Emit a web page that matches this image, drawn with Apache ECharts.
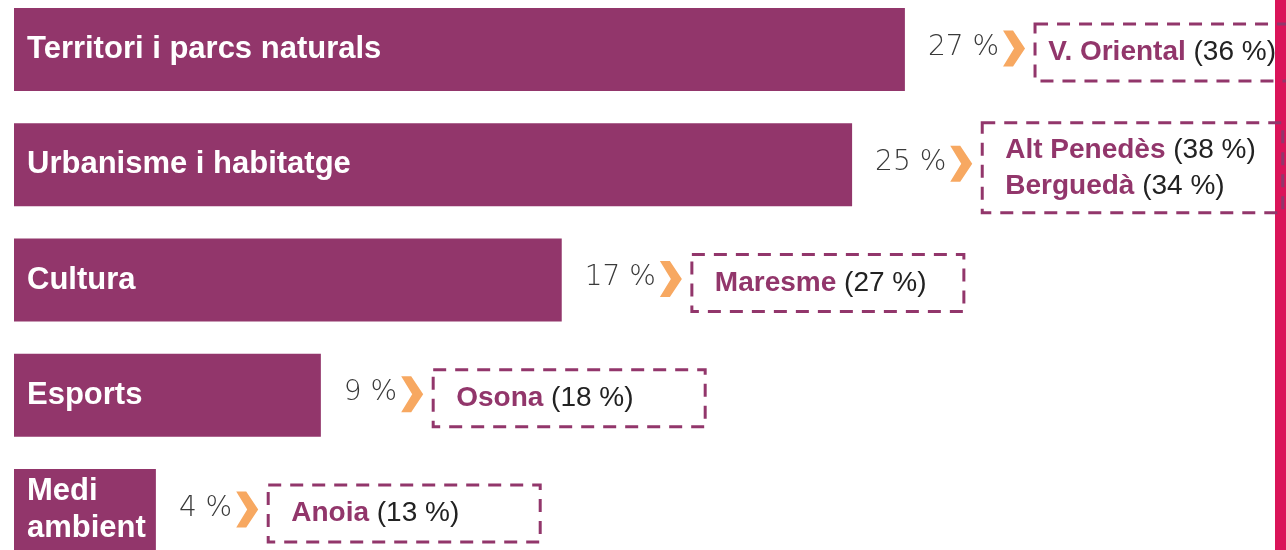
<!DOCTYPE html>
<html>
<head>
<meta charset="utf-8">
<script src="https://cdn.jsdelivr.net/npm/echarts@6/dist/echarts.min.js"></script>
<style>
  html, body { margin: 0; padding: 0; background: #fff; }
  #chart { width: 1286px; height: 550px; }
</style>
</head>
<body>
<div id="chart"></div>
<script>
// categories (area names) and share of the total, in % (bar lengths, labels rounded)
var categories = ['Territori i parcs naturals', 'Urbanisme i habitatge', 'Cultura', 'Esports', 'Medi\nambient'];
var values = [27.0, 25.4, 16.6, 9.3, 4.3];
// region where the area weighs most, with its share
var topRegions = [['V. Oriental'], ['Alt Penedès', 'Berguedà'], ['Maresme'], ['Osona'], ['Anoia']];
var topShares = [[36], [38, 34], [27], [18], [13]];

var purple = '#92366B';
var orange = '#F7A861';
var valueFont = '300 28px "DejaVu Sans"';
var nameFont = 'bold 28px "Liberation Sans"';
var pctFont = '28px "Liberation Sans"';

var measureCtx = document.createElement('canvas').getContext('2d');
function textWidth(txt, font) {
    measureCtx.font = font;
    return measureCtx.measureText(txt).width;
}

var chart = echarts.init(document.getElementById('chart'));

var annData = values.map(function (v, i) { return [v, i]; });

var option = {
    animation: false,
    grid: { left: 14, right: 0, top: -8, bottom: -18, outerBoundsMode: 'none' },
    xAxis: { type: 'value', min: 0, max: 38.55, show: false },
    yAxis: { type: 'category', data: categories, inverse: true, show: false },
    graphic: [{
        type: 'rect',
        right: 0, top: 0,
        shape: { width: 11, height: 550 },
        style: { fill: '#DA1459' }
    }],
    series: [{
        type: 'bar',
        data: values,
        barWidth: 83,
        itemStyle: { color: purple },
        label: {
            show: true,
            position: 'insideLeft',
            offset: [8, 0],
            color: '#fff',
            fontFamily: 'Liberation Sans',
            fontWeight: 'bold',
            fontSize: 31,
            lineHeight: 37,
            formatter: function (p) { return p.name; }
        }
    }, {
        type: 'custom',
        data: annData,
        encode: { x: 0, y: 1 },
        renderItem: function (params, api) {
            var i = params.dataIndex;
            var p = api.coord([api.value(0), api.value(1)]);
            var txt = Math.round(values[i]) + ' %';
            var tx = p[0] + 23;
            var tw = textWidth(txt, valueFont);
            var cx = tx + tw + 4;
            var cy = p[1] - 1;
            var bx = cx + 22 + 10;
            var names = topRegions[i];
            var lines = names.length;
            var bh = lines > 1 ? 90 : 57;
            var by = p[1] + 3 - bh / 2;
            var maxW = 0;
            var rich = names.map(function (n, k) {
                var pct = ' (' + topShares[i][k] + ' %)';
                var w = textWidth(n, nameFont) + textWidth(pct, pctFont);
                maxW = Math.max(maxW, w);
                return '{n|' + n + '}{p|' + pct + '}';
            }).join('\n');
            var bw = Math.max(272, maxW + 50);
            var textX = Math.min(bx + 23, 1276 - maxW);
            return {
                type: 'group',
                children: [{
                    type: 'text',
                    style: {
                        text: txt, x: tx, y: p[1] - 2,
                        font: valueFont, fill: '#3a3a3a',
                        verticalAlign: 'middle', align: 'left'
                    }
                }, {
                    type: 'polygon',
                    shape: {
                        points: [[cx, cy - 18], [cx + 10, cy - 18], [cx + 22, cy],
                                 [cx + 10, cy + 18], [cx, cy + 18], [cx + 11, cy]]
                    },
                    style: { fill: orange }
                }, {
                    type: 'rect',
                    shape: { x: bx, y: by, width: bw, height: bh },
                    style: { fill: 'none', stroke: purple, lineWidth: 3, lineDash: [13, 9] }
                }, {
                    type: 'text',
                    style: {
                        text: rich, x: textX, y: by + bh / 2,
                        verticalAlign: 'middle', align: 'left',
                        lineHeight: 36,
                        rich: {
                            n: { font: nameFont, fill: purple, lineHeight: 36 },
                            p: { font: pctFont, fill: '#222', lineHeight: 36 }
                        }
                    }
                }]
            };
        }
    }]
};

chart.setOption(option);
</script>
</body>
</html>
